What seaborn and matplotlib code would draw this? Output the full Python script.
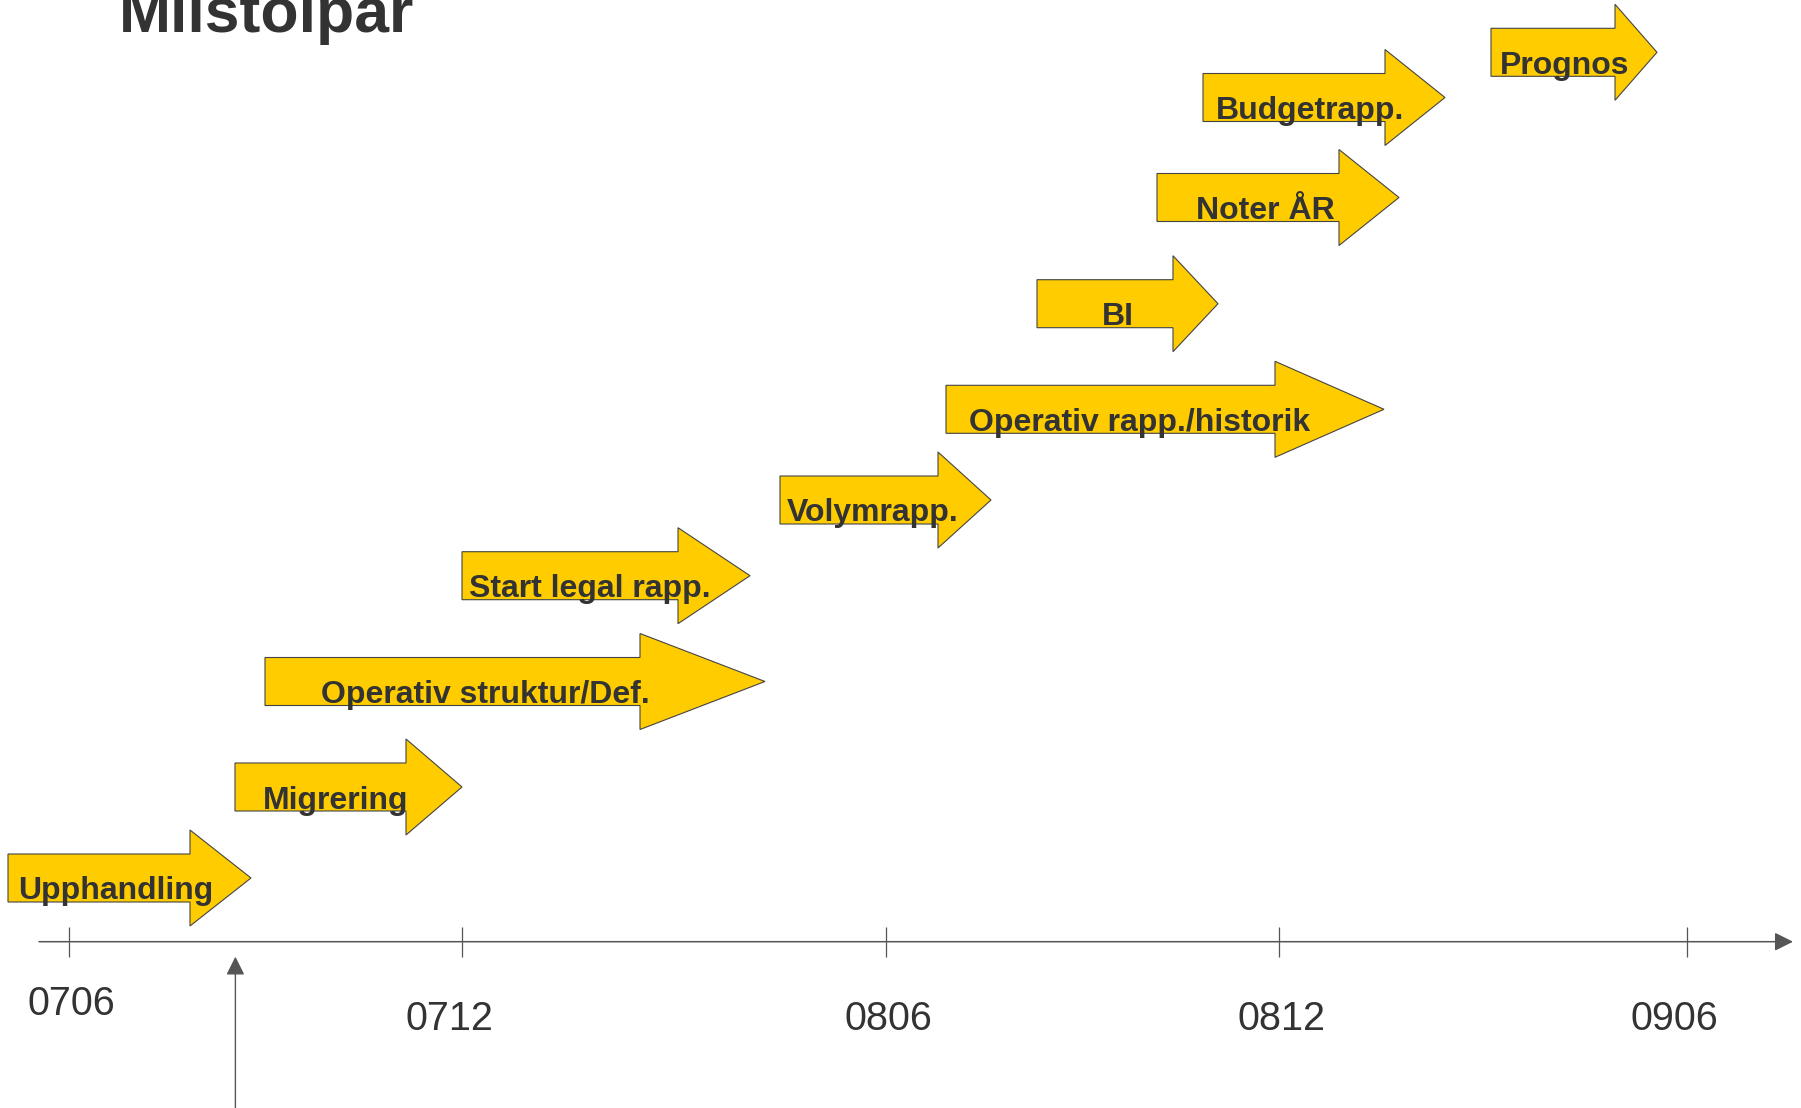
import numpy as np
import pandas as pd
import matplotlib
matplotlib.use("Agg")
import matplotlib.pyplot as plt
from matplotlib.patches import Polygon
import seaborn as sns

# Milestones (timeline units = pixel positions along the time axis)
milestones = ["Upphandling", "Migrering", "Operativ struktur/Def.", "Start legal rapp.",
              "Volymrapp.", "Operativ rapp./historik", "BI", "Noter ÅR",
              "Budgetrapp.", "Prognos"]
start = [8, 235, 265, 462, 780, 946, 1037, 1157, 1203, 1491]
head_start = [190, 406, 640, 678, 938, 1275, 1173, 1339, 1385, 1615]
end = [251, 462, 765, 750, 991, 1384, 1218, 1399, 1445, 1657]
row = [878, 787, 681.5, 575.7, 500, 409.3, 303.7, 197.5, 97.5, 52.3]
label_x = [18, 263, 321, 469, 787, 969, 1102, 1196, 1216, 1500]

# Time axis
tick_labels = ["0706", "0712", "0806", "0812", "0906"]
tick_pos = [69.3, 462.3, 885.6, 1278.6, 1686.8]
tick_label_x = [71.6, 449.7, 888, 1281, 1674.5]
tick_label_y = [1015, 1030, 1030, 1030, 1030]

df = pd.DataFrame({"milestone": milestones, "start": start, "head": head_start,
                   "end": end, "row": row, "label_x": label_x})

sns.set_theme(style="white")
plt.rcParams["font.family"] = ["Liberation Sans", "DejaVu Sans"]

fig = plt.figure(figsize=(18.01, 11.08), dpi=100)
ax = fig.add_axes([0, 0, 1, 1])
ax.set_xlim(0, 1801)
ax.set_ylim(1108, 0)
ax.axis("off")

body = 48
head = 96
text_color = "#333333"

for _, r in df.iterrows():
    yc = r["row"]
    pts = [(r["start"], yc - body / 2), (r["head"], yc - body / 2),
           (r["head"], yc - head / 2), (r["end"], yc),
           (r["head"], yc + head / 2), (r["head"], yc + body / 2),
           (r["start"], yc + body / 2)]
    ax.add_patch(Polygon(pts, closed=True, facecolor="#FFCC00",
                         edgecolor="#444444", linewidth=0.8, zorder=2))
    ax.text(r["label_x"], yc + body / 2 - 2.5, r["milestone"], fontsize=23,
            fontweight="bold", color=text_color, ha="left", va="baseline", zorder=3)

# Timeline axis with arrow
axis_y = 941.7
ax.annotate("", xy=(1793, axis_y), xytext=(39, axis_y),
            arrowprops=dict(arrowstyle="-|>", color="#555555", lw=1.1,
                            mutation_scale=28, shrinkA=0, shrinkB=0,
                            facecolor="#333333"))
ax.vlines(tick_pos, axis_y - 15, axis_y + 15, color="#555555", lw=0.9)
for lab, x, y in zip(tick_labels, tick_label_x, tick_label_y):
    ax.text(x, y, lab, fontsize=28.5, color=text_color, ha="center", va="baseline")

# "Today" marker arrow
ax.annotate("", xy=(235.4, 956.7), xytext=(235.4, 1110),
            arrowprops=dict(arrowstyle="-|>", color="#555555", lw=1.0,
                            mutation_scale=28, shrinkA=0, shrinkB=0,
                            facecolor="#333333"))

# Title (cut at the top edge as in the original slide)
ax.text(119, 32.3, "Milstolpar", fontsize=45, fontweight="bold",
        color=text_color, ha="left", va="baseline")

fig.savefig("out.png", dpi=100)
plt.close(fig)
